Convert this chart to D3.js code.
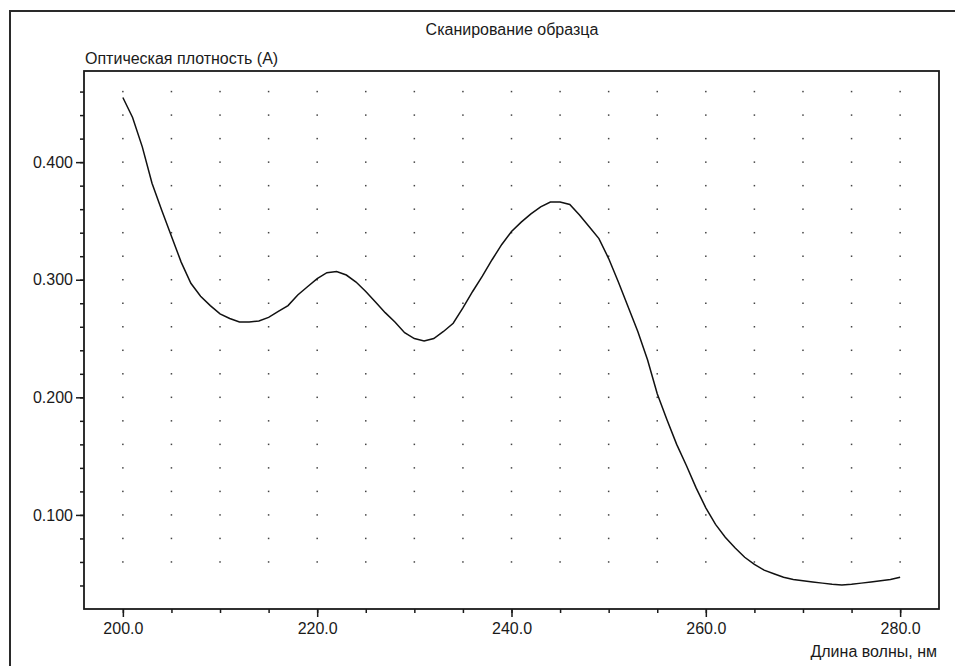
<!DOCTYPE html>
<html>
<head>
<meta charset="utf-8">
<script src="https://cdn.jsdelivr.net/npm/d3@7"></script>
<style>
  body { margin: 0; background: #fff; }
  text { font-family: "Liberation Sans", Arial, sans-serif; fill: #1a1a1a; }
</style>
</head>
<body>
<div id="chart"></div>
<script>
// spectrum, 1 nm steps
const wavelengths = d3.range(200, 281);
const absorbance = [
  0.455, 0.438, 0.413, 0.382, 0.359, 0.337, 0.315, 0.297, 0.286, 0.278,
  0.271, 0.267, 0.264, 0.264, 0.265, 0.268, 0.273, 0.278, 0.287, 0.294,
  0.301, 0.306, 0.307, 0.304, 0.298, 0.290, 0.281, 0.272, 0.264, 0.255,
  0.250, 0.248, 0.250, 0.256, 0.263, 0.276, 0.290, 0.303, 0.317, 0.330,
  0.341, 0.349, 0.356, 0.362, 0.366, 0.366, 0.364, 0.355, 0.345, 0.335,
  0.318, 0.298, 0.277, 0.256, 0.232, 0.203, 0.181, 0.160, 0.142, 0.123,
  0.106, 0.092, 0.081, 0.072, 0.064, 0.058, 0.053, 0.050, 0.047, 0.045,
  0.044, 0.043, 0.042, 0.041, 0.0405, 0.041, 0.042, 0.043, 0.044, 0.045,
  0.047
];
const xMajorTicks = [200, 220, 240, 260, 280];
const xMinorTicks = d3.range(200, 281, 5);
const yMajorTicks = [0.1, 0.2, 0.3, 0.4];
const yMinorTicks = d3.range(2, 24).map(i => i * 0.02);

const chartTitle = "Сканирование образца";
const yTitle = "Оптическая плотность (А)";
const xTitle = "Длина волны, нм";

const width = 955, height = 666;
const plot = { left: 84, top: 71, right: 939, bottom: 609 };

const svg = d3.select("#chart").append("svg")
    .attr("width", width)
    .attr("height", height);

// outer window frame
svg.append("rect")
    .attr("x", 10).attr("y", 11)
    .attr("width", 980).attr("height", 700)
    .attr("fill", "none")
    .attr("stroke", "#2a2a2a")
    .attr("stroke-width", 2);

const x = d3.scaleLinear().domain([196, 284]).range([plot.left, plot.right]);
const y = d3.scaleLinear().domain([0.02, 0.4775]).range([plot.bottom, plot.top]);

// dotted grid
const dots = [];
xMinorTicks.forEach(w => yMinorTicks.slice(1).forEach(a => dots.push([w, a])));
svg.append("g").selectAll("rect")
    .data(dots)
    .enter().append("rect")
    .attr("x", d => x(d[0]) - 0.75)
    .attr("y", d => y(d[1]) - 0.75)
    .attr("width", 1.5)
    .attr("height", 1.5)
    .attr("fill", "#444");

// axes: minor then major ticks
function styleAxis(g) {
    g.select(".domain").remove();
    g.selectAll("line").attr("stroke", "#1a1a1a").attr("stroke-width", 1.5);
    g.selectAll("text").attr("font-size", 16).attr("fill", "#1a1a1a")
        .attr("font-family", "Liberation Sans, Arial, sans-serif");
}

svg.append("g")
    .attr("transform", `translate(0,${plot.bottom})`)
    .call(d3.axisBottom(x).tickValues(xMinorTicks).tickSize(4).tickFormat(""))
    .call(styleAxis);
svg.append("g")
    .attr("transform", `translate(0,${plot.bottom})`)
    .call(d3.axisBottom(x).tickValues(xMajorTicks).tickSize(8).tickPadding(6).tickFormat(d3.format(".1f")))
    .call(styleAxis);

svg.append("g")
    .attr("transform", `translate(${plot.left},0)`)
    .call(d3.axisLeft(y).tickValues(yMinorTicks).tickSize(4).tickFormat(""))
    .call(styleAxis);
svg.append("g")
    .attr("transform", `translate(${plot.left},0)`)
    .call(d3.axisLeft(y).tickValues(yMajorTicks).tickSize(8).tickPadding(3).tickFormat(d3.format(".3f")))
    .call(styleAxis);

// plot frame
svg.append("rect")
    .attr("x", plot.left).attr("y", plot.top)
    .attr("width", plot.right - plot.left)
    .attr("height", plot.bottom - plot.top)
    .attr("fill", "none")
    .attr("stroke", "#1a1a1a")
    .attr("stroke-width", 1.8);

// spectrum line
const line = d3.line()
    .x((d, i) => x(wavelengths[i]))
    .y(d => y(d));

svg.append("path")
    .datum(absorbance)
    .attr("d", line)
    .attr("fill", "none")
    .attr("stroke", "#111")
    .attr("stroke-width", 1.5);

// titles
svg.append("text")
    .attr("x", 512).attr("y", 35)
    .attr("text-anchor", "middle")
    .attr("font-size", 16)
    .text(chartTitle);

svg.append("text")
    .attr("x", 85).attr("y", 64)
    .attr("font-size", 16)
    .text(yTitle);

svg.append("text")
    .attr("x", 937).attr("y", 657)
    .attr("text-anchor", "end")
    .attr("font-size", 16)
    .text(xTitle);
</script>
</body>
</html>
